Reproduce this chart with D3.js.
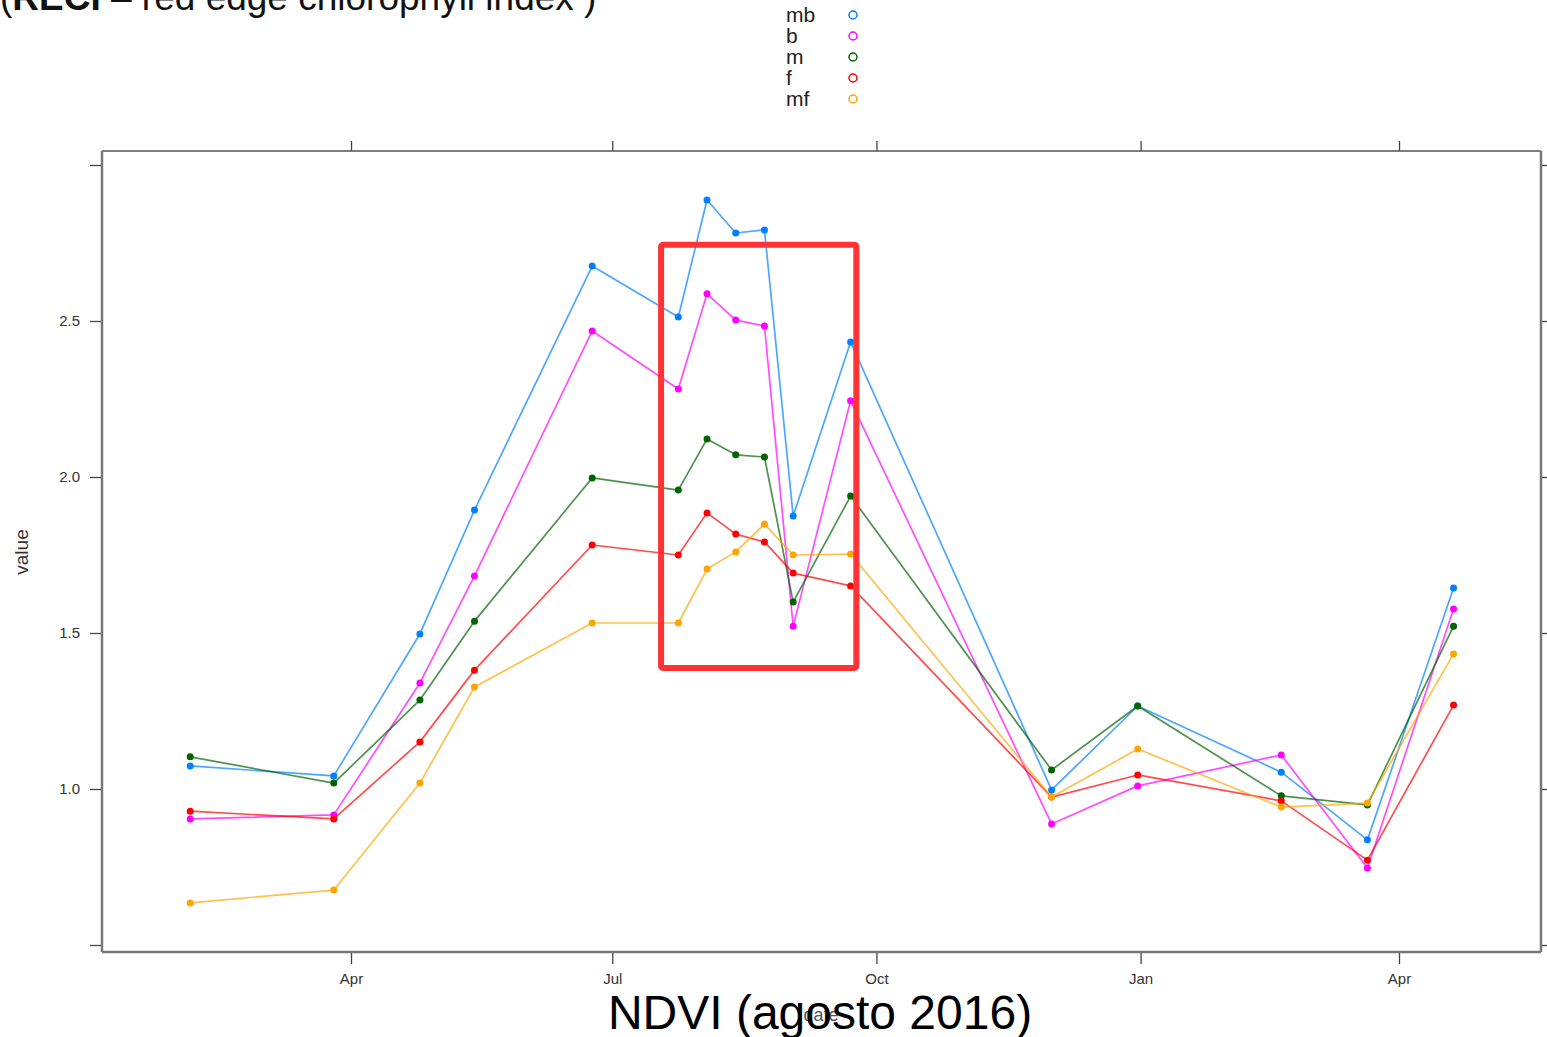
<!DOCTYPE html>
<html>
<head>
<meta charset="utf-8">
<script src="https://cdn.jsdelivr.net/npm/d3@7"></script>
<style>
  body { margin: 0; background: #fff; }
  svg { display: block; font-family: "Liberation Sans", Arial, sans-serif; }
</style>
</head>
<body>
<div id="chart"></div>
<script>
// data
const dates = ['2016-02-05', '2016-03-26', '2016-04-25', '2016-05-14', '2016-06-24',
  '2016-07-24', '2016-08-03', '2016-08-13', '2016-08-23', '2016-09-02', '2016-09-22',
  '2016-12-01', '2016-12-31', '2017-02-19', '2017-03-21', '2017-04-20']
const seriesNames = ['mb', 'b', 'm', 'f', 'mf']
const seriesColors = ['#0080ff', '#ff00ff', '#006400', '#ff0000', '#ffa500']
const mb = [1.074, 1.042, 1.497, 1.894, 2.676, 2.513, 2.888, 2.782, 2.792, 1.875, 2.433, 0.997, 1.266, 1.054, 0.837, 1.644]
const b = [0.904, 0.917, 1.340, 1.683, 2.468, 2.282, 2.587, 2.503, 2.484, 1.522, 2.244, 0.888, 1.010, 1.109, 0.747, 1.577]
const m = [1.103, 1.019, 1.285, 1.538, 1.997, 1.958, 2.122, 2.071, 2.064, 1.599, 1.939, 1.061, 1.266, 0.978, 0.949, 1.522]
const f = [0.929, 0.904, 1.151, 1.381, 1.782, 1.750, 1.885, 1.817, 1.792, 1.692, 1.651, 0.974, 1.045, 0.962, 0.772, 1.269]
const mf = [0.635, 0.676, 1.019, 1.327, 1.532, 1.532, 1.705, 1.760, 1.849, 1.750, 1.753, 0.974, 1.128, 0.942, 0.955, 1.433]
const seriesValues = [mb, b, m, f, mf]
const yTicks = [0.5, 1.0, 1.5, 2.0, 2.5, 3.0]
const yLabels = ['', '1.0', '1.5', '2.0', '2.5', '']
const xTicks = ['2016-04-01', '2016-07-01', '2016-10-01', '2017-01-01', '2017-04-01']
// highlighted window (August 2016)
const boxDates = ['2016-07-18', '2016-09-24']
const boxValues = [2.744, 1.388]

const W = 1547, H = 1037
const frame = { left: 102, right: 1541, top: 151, bottom: 952 }
const parse = d3.timeParse('%Y-%m-%d')

const svg = d3.select('#chart').append('svg')
  .attr('width', W)
  .attr('height', H)

const x = d3.scaleTime()
  .domain([parse('2016-04-01'), parse('2017-04-01')])
  .range([351, 1399])
const y = d3.scaleLinear()
  .domain([0.5, 3.0])
  .range([945, 165])

// axes (lattice style, ticks outside on all four sides)
const styleAxis = g => {
  g.select('.domain').remove()
  g.selectAll('.tick line').attr('stroke', '#444').attr('stroke-width', 1.3)
  g.selectAll('.tick text').attr('fill', '#333').style('font-size', '15px')
}
svg.append('g')
  .attr('transform', `translate(${frame.left},0)`)
  .call(d3.axisLeft(y).tickValues(yTicks).tickSize(12).tickPadding(10)
    .tickFormat((d, i) => yLabels[i]))
  .call(styleAxis)
svg.append('g')
  .attr('transform', `translate(${frame.right},0)`)
  .call(d3.axisRight(y).tickValues(yTicks).tickSize(6).tickFormat(''))
  .call(styleAxis)
svg.append('g')
  .attr('transform', `translate(0,${frame.bottom})`)
  .call(d3.axisBottom(x).tickValues(xTicks.map(parse)).tickSize(12).tickPadding(9)
    .tickFormat(d3.timeFormat('%b')))
  .call(styleAxis)
svg.append('g')
  .attr('transform', `translate(0,${frame.top})`)
  .call(d3.axisTop(x).tickValues(xTicks.map(parse)).tickSize(10).tickFormat(''))
  .call(styleAxis)

// panel frame
svg.append('line').attr('x1', frame.left).attr('x2', frame.right)
  .attr('y1', frame.top).attr('y2', frame.top).attr('stroke', '#555').attr('stroke-width', 1.5)
svg.append('line').attr('x1', frame.right).attr('x2', frame.right)
  .attr('y1', frame.top).attr('y2', frame.bottom).attr('stroke', '#777').attr('stroke-width', 2.5)
svg.append('line').attr('x1', frame.left).attr('x2', frame.left)
  .attr('y1', frame.top).attr('y2', frame.bottom).attr('stroke', '#777').attr('stroke-width', 2.5)
svg.append('line').attr('x1', frame.left).attr('x2', frame.right)
  .attr('y1', frame.bottom).attr('y2', frame.bottom).attr('stroke', '#777').attr('stroke-width', 2.5)

// lines + points
const line = d3.line()
  .x((d, i) => x(parse(dates[i])))
  .y(d => y(d))
seriesValues.forEach((vals, s) => {
  const g = svg.append('g').attr('class', 'series-' + seriesNames[s])
  g.append('path')
    .datum(vals)
    .attr('fill', 'none')
    .attr('stroke', seriesColors[s])
    .attr('stroke-opacity', 0.7)
    .attr('stroke-width', 1.7)
    .attr('stroke-linejoin', 'round')
    .attr('d', line)
  g.selectAll('circle')
    .data(vals)
    .join('circle')
    .attr('cx', (d, i) => x(parse(dates[i])))
    .attr('cy', d => y(d))
    .attr('r', 3.5)
    .attr('fill', seriesColors[s])
})

// axis titles
svg.append('text')
  .attr('transform', 'translate(28,552) rotate(-90)')
  .attr('text-anchor', 'middle')
  .attr('fill', '#333')
  .style('font-size', '19px')
  .text('value')
svg.append('text')
  .attr('x', 821).attr('y', 1021)
  .attr('text-anchor', 'middle')
  .attr('fill', '#555')
  .style('font-size', '18px')
  .text('date')

// legend
const legend = svg.append('g')
seriesNames.forEach((name, i) => {
  legend.append('text')
    .attr('x', 786).attr('y', 22 + i * 21)
    .attr('fill', '#222')
    .style('font-size', '21px')
    .text(name)
  legend.append('circle')
    .attr('cx', 853).attr('cy', 15 + i * 21)
    .attr('r', 4)
    .attr('fill', 'none')
    .attr('stroke', seriesColors[i])
    .attr('stroke-width', 1.5)
})

// highlight box
svg.append('rect')
  .attr('x', x(parse(boxDates[0])))
  .attr('y', y(boxValues[0]))
  .attr('width', x(parse(boxDates[1])) - x(parse(boxDates[0])))
  .attr('height', y(boxValues[1]) - y(boxValues[0]))
  .attr('rx', 2)
  .attr('fill', 'none')
  .attr('stroke', '#ff3333')
  .attr('stroke-width', 6)

// slide texts
const head = svg.append('text')
  .attr('x', 0).attr('y', 10)
  .attr('fill', '#111')
  .style('font-size', '37px')
head.append('tspan').text('(')
head.append('tspan').style('font-weight', 'bold').text('RECI')
head.append('tspan').text(' – red edge chlorophyll index )')

svg.append('text')
  .attr('x', 820).attr('y', 1029)
  .attr('text-anchor', 'middle')
  .attr('fill', '#000')
  .style('font-size', '48px')
  .text('NDVI (agosto 2016)')
</script>
</body>
</html>
